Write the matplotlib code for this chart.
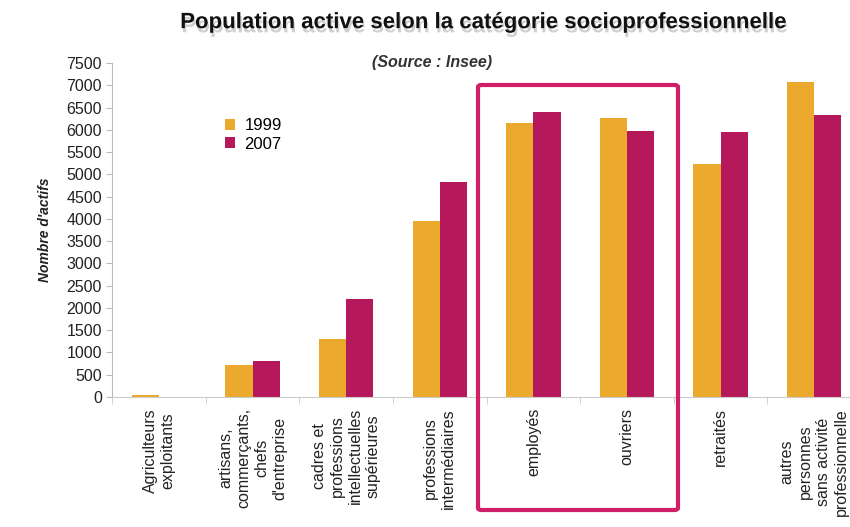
import matplotlib
matplotlib.use("Agg")
import matplotlib.pyplot as plt
import matplotlib.patheffects as pe
from matplotlib.patches import FancyBboxPatch
import numpy as np

categories = [
    "Agriculteurs\nexploitants",
    "artisans,\ncommerçants,\nchefs\nd'entreprise",
    "cadres et\nprofessions\nintellectuelles\nsupérieures",
    "professions\nintermédiaires",
    "employés",
    "ouvriers",
    "retraités",
    "autres\npersonnes\nsans activité\nprofessionnelle",
]
v1999 = [40, 720, 1300, 3950, 6160, 6270, 5240, 7080]
v2007 = [0, 810, 2200, 4830, 6400, 5980, 5950, 6340]
yticks = list(range(0, 7501, 500))

c1999 = "#EBAA2E"
c2007 = "#B5195B"

plt.rcParams['font.family'] = ['Liberation Sans', 'DejaVu Sans']

fig = plt.figure(figsize=(8.5, 5.27), dpi=100)
ax = fig.add_axes([0.132, 0.247, 0.881, 0.633])

x = np.arange(len(categories))
w = 0.29
ax.bar(x - w / 2, v1999, w, color=c1999, label="1999")
ax.bar(x + w / 2, v2007, w, color=c2007, label="2007")

ax.set_xlim(-0.5, len(categories) - 0.5)
ax.set_ylim(0, 7500)
ax.set_yticks(yticks)
ax.tick_params(axis='y', labelsize=11.5, length=4, color="#bbbbbb", labelcolor="#222222")
ax.set_xticks(x)
ax.set_xticklabels(categories, rotation=90, fontsize=11.5, color="#222222",
                   va='top', ha='center', multialignment='center', linespacing=1.25)
ax.tick_params(axis='x', length=0, pad=8)
ax.set_xticks(np.arange(-0.5, len(categories)), minor=True)
ax.tick_params(axis='x', which='minor', length=5, color="#cccccc")

for s in ["top", "right"]:
    ax.spines[s].set_visible(False)
ax.spines["left"].set_color("#bbbbbb")
ax.spines["bottom"].set_color("#cccccc")

ax.set_ylabel("Nombre d'actifs", fontsize=10, fontstyle='italic', fontweight='bold',
              color="#222222", labelpad=10)

leg = ax.legend(loc='upper left', bbox_to_anchor=(0.13, 0.88), frameon=False,
                fontsize=12, handlelength=0.6, handleheight=0.6, handletextpad=0.6,
                labelspacing=0.2)

fig.text(0.568, 0.957, "Population active selon la catégorie socioprofessionnelle",
         ha='center', va='center', fontsize=16, fontweight='bold', color="#111111",
         path_effects=[pe.withSimplePatchShadow(offset=(1, -3), shadow_rgbFace='#777777', alpha=0.35)])
fig.text(0.508, 0.882, "(Source : Insee)", ha='center', va='center', fontsize=11.5,
         fontstyle='italic', fontweight='bold', color="#333333")

box = FancyBboxPatch((478 / 850, 1 - 510 / 527), 200 / 850, 425 / 527,
                     boxstyle="round,pad=0,rounding_size=0.004",
                     transform=fig.transFigure, fill=False,
                     edgecolor="#D11F67", linewidth=3, zorder=10)
fig.patches.append(box)

fig.savefig("out.png", dpi=100)
